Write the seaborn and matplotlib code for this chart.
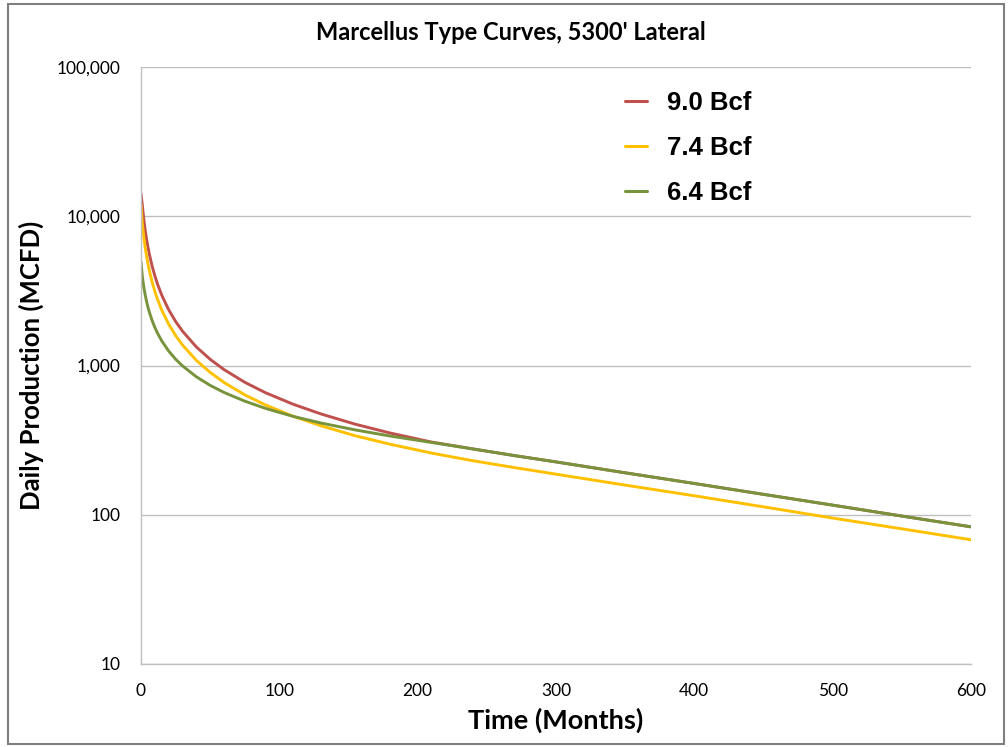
import matplotlib
matplotlib.use("Agg")
import matplotlib.pyplot as plt
import seaborn as sns
import pandas as pd
from matplotlib.patches import Rectangle
from matplotlib.ticker import FuncFormatter, NullLocator

# ---- data ----
months = [0, 1, 2, 3, 4, 5, 6, 8, 10, 12, 15, 20, 25, 30, 40, 50, 60, 75, 90,
          110, 130, 155, 180, 210, 240, 270, 300, 350, 400, 450, 500, 550, 600]

bcf_90 = [14200, 11750, 9575, 8100, 7035, 6223, 5586, 4648, 3990, 3498, 2960,
          2364, 1974, 1698, 1332, 1100, 939, 772, 657, 550, 474, 404, 353, 307,
          276, 249, 226, 191, 162, 137, 116, 98, 83]

bcf_74 = [11850, 8822, 7271, 6202, 5419, 4819, 4345, 3640, 3140, 2766, 2353,
          1892, 1588, 1372, 1083, 899, 770, 636, 544, 457, 395, 338, 297, 259,
          230, 207, 187, 158, 134, 113, 95, 80.5, 68]

bcf_64 = [4950, 3909, 3364, 2980, 2692, 2466, 2284, 2005, 1800, 1642, 1461,
          1250, 1103, 994, 840, 736, 660, 577, 516, 456, 412, 370, 337, 305,
          276, 249, 226, 191, 162, 137, 116, 98, 83]

series_names = ["9.0 Bcf", "7.4 Bcf", "6.4 Bcf"]
series_colors = ["#C0504D", "#FFC000", "#77933C"]
y_ticks = [10, 100, 1000, 10000, 100000]
x_ticks = [0, 100, 200, 300, 400, 500, 600]

title = "Marcellus Type Curves, 5300' Lateral"
x_label = "Time (Months)"
y_label = "Daily Production (MCFD)"

frames = []
for name, vals in zip(series_names, [bcf_90, bcf_74, bcf_64]):
    frames.append(pd.DataFrame({"Month": months, "Rate": vals, "Curve": name}))
df = pd.concat(frames, ignore_index=True)

# ---- drawing ----
sns.set_theme(style="white")
plt.rcParams["font.family"] = ["Lato", "DejaVu Sans"]
plt.rcParams["text.color"] = "#000000"
plt.rcParams["axes.labelcolor"] = "#000000"

W, H = 1008, 747
fig = plt.figure(figsize=(W / 100, H / 100), dpi=100)
ax = fig.add_axes([141 / W, 1 - 664 / H, (971 - 141) / W, (664 - 67) / H])

# outer frame
fig.patches.append(Rectangle((8 / W, 1 - 744 / H), (1004 - 8) / W, (744 - 4) / H,
                             transform=fig.transFigure, fill=False,
                             edgecolor="#7F7F7F", linewidth=1.5, zorder=0))

sns.lineplot(data=df, x="Month", y="Rate", hue="Curve", hue_order=series_names,
             palette=series_colors, linewidth=2.1, ax=ax, legend=True,
             estimator=None, sort=True)

ax.set_yscale("log")
ax.set_ylim(10, 100000)
ax.set_xlim(0, 600)
ax.set_yticks(y_ticks)
ax.yaxis.set_minor_locator(NullLocator())
ax.yaxis.set_major_formatter(FuncFormatter(lambda v, p: f"{int(round(v)):,}"))
ax.set_xticks(x_ticks)

ax.grid(axis="y", color="#BFBFBF", linewidth=1.0)
ax.grid(axis="x", visible=False)
ax.set_axisbelow(True)
for s in ["top", "right"]:
    ax.spines[s].set_visible(False)
for s in ["left", "bottom"]:
    ax.spines[s].set_color("#BFBFBF")
    ax.spines[s].set_linewidth(1.0)

ax.tick_params(axis="both", length=0, labelsize=12.5, colors="#000000")
ax.tick_params(axis="y", pad=15)
ax.tick_params(axis="x", pad=14)

ax.set_xlabel(x_label, fontsize=19.5, fontweight="bold", labelpad=6, color="#000000")
ax.set_ylabel(y_label, fontsize=18.5, fontweight="bold", labelpad=9, color="#000000")
fig.text(511 / W, 1 - 33 / H, title, ha="center", va="center",
         fontsize=17, fontweight="bold", color="#000000")

handles, labels = ax.get_legend_handles_labels()
leg = ax.legend(handles, labels, loc="upper left",
                bbox_to_anchor=(625 / W, 1 - 91 / H),
                bbox_transform=fig.transFigure, frameon=False,
                handlelength=0.85, handletextpad=0.8, labelspacing=0.82,
                borderpad=0, borderaxespad=0,
                prop={"family": ["Liberation Sans", "DejaVu Sans"],
                      "weight": "bold", "size": 18.5})
for t in leg.get_texts():
    t.set_color("#000000")
for line in leg.get_lines():
    line.set_linewidth(2.2)

fig.savefig("out.png", dpi=100)
